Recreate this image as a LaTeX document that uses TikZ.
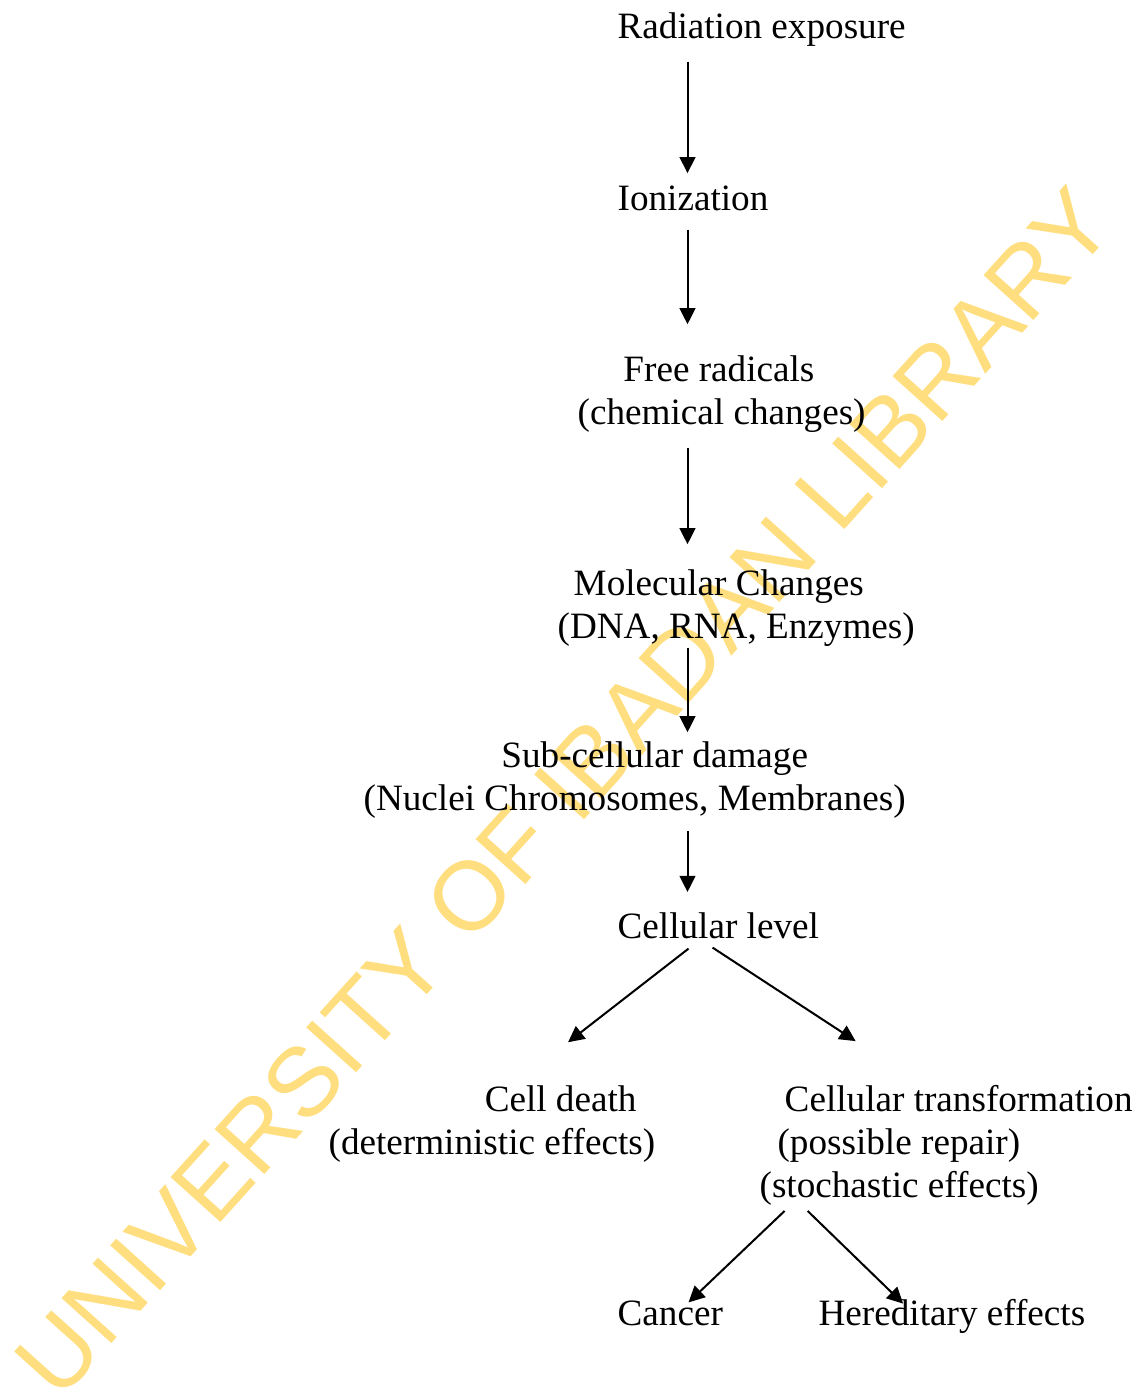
\documentclass[tikz,border=0pt]{standalone}
\usepackage{fontspec}
\setmainfont{Liberation Serif}
\newfontfamily\wmfont{Liberation Sans}
\usepackage{tikz}
\usetikzlibrary{arrows.meta, calc}
\definecolor{wmyellow}{RGB}{255,222,128}

\begin{document}
\begin{tikzpicture}[x=0.3228pt, y=-0.3228pt,
  font=\fontsize{12}{13.8}\selectfont,
  lbl/.style={inner sep=0pt, anchor=base west, align=left},
  arr/.style={line width=0.65pt, -{Triangle[length=5.2pt,width=5.1pt]}}]
\useasboundingbox (0,0) rectangle (1143,1393);

% watermark
\node[text=wmyellow, rotate=48, font=\wmfont\fontsize{31.5}{31.5}\selectfont] (wm) at (564,792) {UNIVERSITY OF IBADAN LIBRARY};

\coordinate (spine) at (687.5,0);

% base is the last line of each node
\node[lbl] (rad) at (617,38) {Radiation exposure};
\node[lbl] (ion) at (617,210) {Ionization};
\node[lbl] (free) at (577,424) {\hspace*{14.8pt}Free radicals\\(chemical changes)};
\node[lbl] (mol) at (557,638) {\hspace*{5.2pt}Molecular Changes\\(DNA, RNA, Enzymes)};
\node[lbl] (sub) at (363,810) {\hspace*{44.5pt}Sub-cellular damage\\(Nuclei Chromosomes, Membranes)};
\node[lbl] (cell) at (617,938) {Cellular level};
\node[lbl] (death) at (328,1154) {\hspace*{50.4pt}Cell death\\(deterministic effects)};
\node[lbl] (trans) at (759,1197) {\hspace*{8.1pt}Cellular transformation\\\hspace*{5.8pt}(possible repair)\\(stochastic effects)};
\node[lbl] (cancer) at (617,1325) {Cancer};
\node[lbl] (hered) at (818,1325) {Hereditary effects};

% main chain
\draw[arr] ($(rad.south -| spine)+(0,15)$) -- ($(ion.north -| spine)+(0,-11.6)$);
\draw[arr] ($(ion.south -| spine)+(0,18.6)$) -- ($(free.north -| spine)+(0,-30.6)$);
\draw[arr] ($(free.south -| spine)+(0,15)$) -- ($(mol.north -| spine)+(0,-24.6)$);
\draw[arr] ($(mol.south -| spine)+(0,1)$) -- ($(sub.north -| spine)+(0,-8.6)$);
\draw[arr] ($(sub.south -| spine)+(0,12.4)$) -- ($(cell.north -| spine)+(0,-19.6)$);

% branches
\draw[arr] ($(cell.south)+(-29.7,9.6)$) -- ($(death.north)+(76.2,-42.6)$);
\draw[arr] ($(cell.south)+(-5.7,8.6)$) -- ($(trans.north)+(-90.5,-43.6)$);
\draw[arr] ($(trans.south)+(-161.5,5.4)$) -- ($(cancer.north)+(18.3,2.6)$);
\draw[arr] ($(trans.south)+(-138.5,5.4)$) -- ($(hered.north)+(-48.8,5.4)$);

\end{tikzpicture}
\end{document}
